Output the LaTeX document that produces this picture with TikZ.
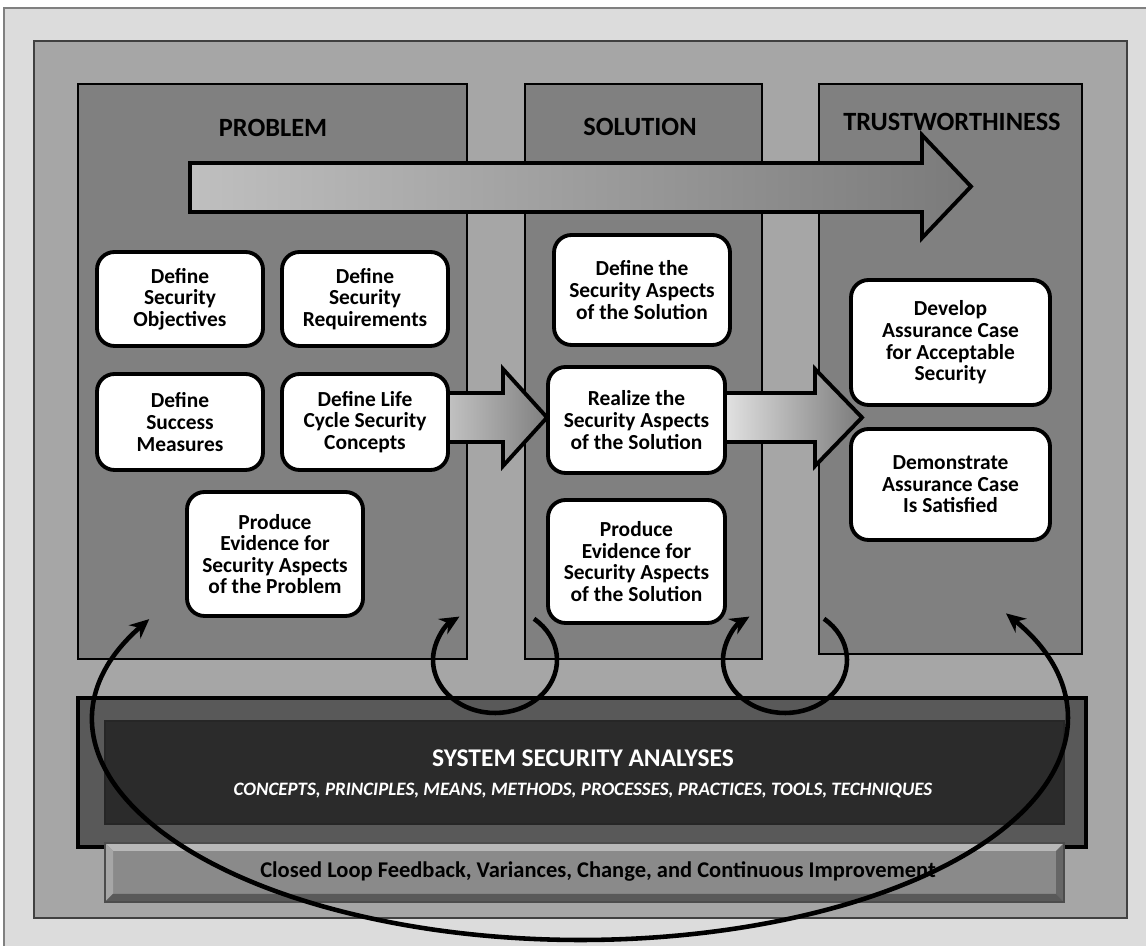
\documentclass[tikz,border=0pt]{standalone}
\usepackage{fontspec}
\setmainfont{Carlito}
\usetikzlibrary{arrows.meta}
\definecolor{pagegray}{HTML}{DCDCDC}
\definecolor{framegray}{HTML}{A6A6A6}
\definecolor{phasegray}{HTML}{808080}
\definecolor{sysgray}{HTML}{595959}
\definecolor{sysdark}{HTML}{2B2B2B}
\definecolor{barface}{HTML}{8A8A8A}
\begin{document}
\begin{tikzpicture}[x=0.02cm, y=0.02cm,
	task/.style={rectangle, rounded corners=0.35cm, fill=white, line width=2.2pt, draw=black, align=center, inner sep=1pt, font=\bfseries\fontsize{12.2}{12.3}\selectfont},
	phasebox/.style={fill=phasegray, draw=black, line width=0.9pt},
	headline/.style={font=\bfseries\fontsize{15}{17}\selectfont},
	blockarrow/.style={draw=black, line width=2.2pt},
	feedbackline/.style={line width=2.6pt, draw=black}]
	\useasboundingbox (0,0) rectangle (1146,946);
	\fill[white] (0,0) rectangle (1146,946);
	\draw[fill=pagegray, draw=gray, line width=0.6pt] (4,-5) rectangle (1152,938);
	\draw[fill=framegray, draw=black!75, line width=0.6pt] (34,28) rectangle (1127,905);
	\draw[phasebox] (78,287) rectangle (467,862);
	\draw[phasebox] (525,287) rectangle (762,862);
	\draw[phasebox] (819,292) rectangle (1082,862);
	\node[headline](problem) at (273,818){PROBLEM};
	\node[headline](solution) at (640,819){SOLUTION};
	\node[headline](trust) at (952,824){TRUSTWORTHINESS};
	\draw[blockarrow, left color=black!25, right color=black!52] (190,734) -- (922,734) -- (922,708) -- (971,759.5) -- (922,811) -- (922,783) -- (190,783) -- cycle;
	\draw[blockarrow, left color=black!22, right color=black!50] (440,504) -- (503,504) -- (503,480) -- (547,528.5) -- (503,577) -- (503,553) -- (440,553) -- cycle;
	\draw[blockarrow, left color=black!10, right color=black!52] (720,504) -- (815,504) -- (815,480) -- (862,528.5) -- (815,577) -- (815,553) -- (720,553) -- cycle;
	\node[task, minimum width=3.32cm, minimum height=1.88cm](objectives) at (180,647){Define\\Security\\Objectives};
	\node[task, minimum width=3.32cm, minimum height=1.88cm](requirements) at (365,647){Define\\Security\\Requirements};
	\node[task, minimum width=3.32cm, minimum height=1.92cm](measures) at (180,524){Define\\Success\\Measures};
	\node[task, minimum width=3.32cm, minimum height=1.92cm](concepts) at (365,524){Define Life\\Cycle Security\\Concepts};
	\node[task, minimum width=3.52cm, minimum height=2.48cm](probevidence) at (275,392){Produce\\Evidence for\\Security Aspects\\of the Problem};
	\node[task, minimum width=3.52cm, minimum height=2.2cm](definesol) at (642,656){Define the\\Security Aspects\\of the Solution};
	\node[task, minimum width=3.54cm, minimum height=2.12cm](realize) at (636.5,526){Realize the\\Security Aspects\\of the Solution};
	\node[task, minimum width=3.54cm, minimum height=2.46cm](solevidence) at (636.5,384.5){Produce\\Evidence for\\Security Aspects\\of the Solution};
	\node[task, minimum width=3.98cm, minimum height=2.5cm](develop) at (950.5,603.5){Develop\\Assurance Case\\for Acceptable\\Security};
	\node[task, minimum width=3.98cm, minimum height=2.22cm](demonstrate) at (950.5,461.5){Demonstrate\\Assurance Case\\Is Satisfied};
	\draw[fill=sysgray, draw=black, line width=2.8pt] (78,99) rectangle (1086,248);
	\draw[fill=sysdark, draw=black!85, line width=0.8pt] (105,122) rectangle (1064,225);
	\node[text=white, font=\bfseries\fontsize{14.5}{17}\selectfont](analyses) at (583,188){SYSTEM SECURITY ANALYSES};
	\node[text=white, font=\bfseries\itshape\fontsize{10.8}{13}\selectfont](means) at (583,155){CONCEPTS, PRINCIPLES, MEANS, METHODS, PROCESSES, PRACTICES, TOOLS, TECHNIQUES};
	\fill[barface] (105,44) rectangle (1064,103);
	\fill[black!28] (105,103) -- (1064,103) -- (1056,95) -- (113,95) -- cycle;
	\fill[black!35] (105,44) -- (105,103) -- (113,95) -- (113,52) -- cycle;
	\fill[black!60] (1064,44) -- (1064,103) -- (1056,95) -- (1056,52) -- cycle;
	\fill[black!65] (105,44) -- (1064,44) -- (1056,52) -- (113,52) -- cycle;
	\draw[black!70, line width=0.6pt] (105,44) rectangle (1064,103);
	\node[font=\bfseries\fontsize{12.8}{15}\selectfont](feedback) at (598,74){Closed Loop Feedback, Variances, Change, and Continuous Improvement};
	\coordinate (leftturn) at (495,286);
	\coordinate (rightturn) at (785,286);
	\coordinate (bigturn) at (581,226);
	\draw[feedbackline, -{Stealth[length=11pt, width=10pt]}] (leftturn) ++(51:1.24cm and 1.06cm) arc[start angle=51, end angle=-235, x radius=1.24cm, y radius=1.06cm];
	\draw[feedbackline, -{Stealth[length=11pt, width=10pt]}] (rightturn) ++(51:1.24cm and 1.06cm) arc[start angle=51, end angle=-235, x radius=1.24cm, y radius=1.06cm];
	\draw[feedbackline, {Stealth[length=11pt, width=10pt]}-{Stealth[length=11pt, width=10pt]}] (bigturn) ++(152.7:9.72cm and 4.4cm) arc[start angle=152.7, end angle=389, x radius=9.72cm, y radius=4.4cm];
\end{tikzpicture}
\end{document}
